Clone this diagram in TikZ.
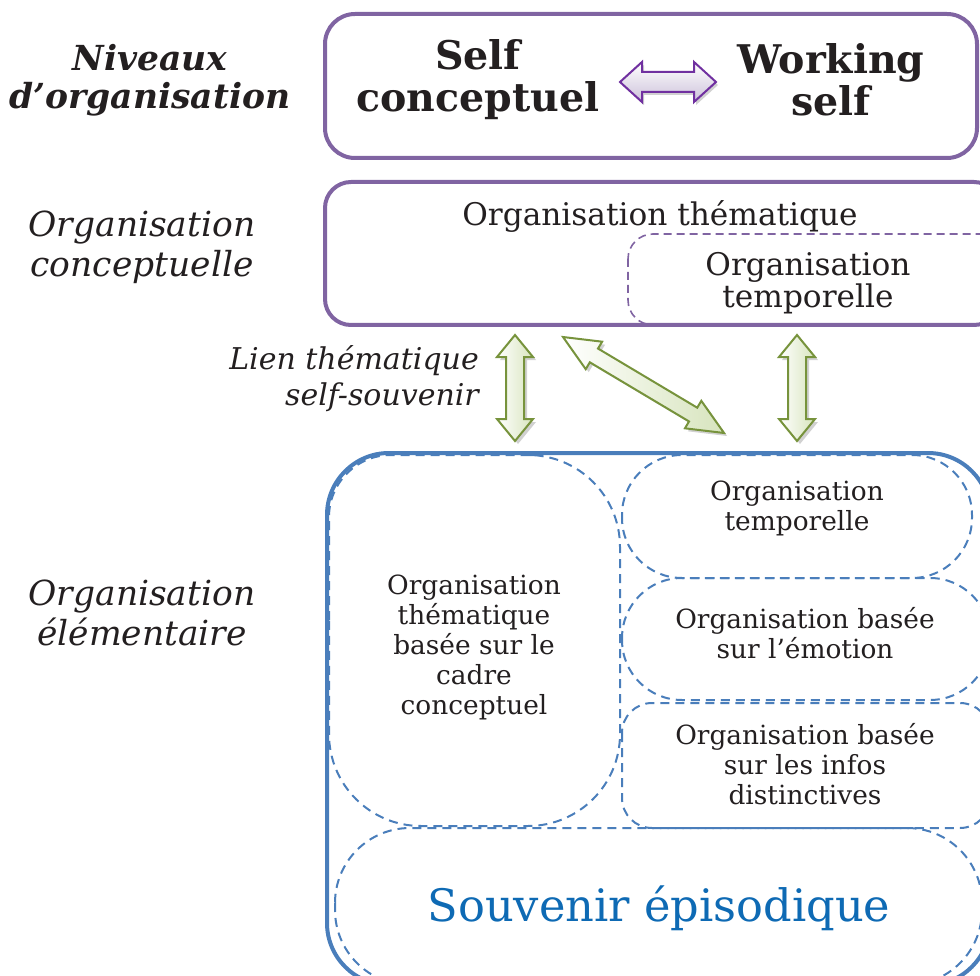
\documentclass[tikz,border=0pt]{standalone}
\usepackage{fontspec}
\setmainfont{DejaVu Serif}
\definecolor{boxpurple}{HTML}{8064A2}
\definecolor{arrpurple}{HTML}{7030A0}
\definecolor{arrpurplefill}{HTML}{CCC1DA}
\definecolor{arrgreen}{HTML}{77933C}
\definecolor{arrgreenfill}{HTML}{D7E4BD}
\definecolor{boxblue}{HTML}{4A7EBB}
\definecolor{txtgray}{HTML}{231F20}
\definecolor{souvblue}{HTML}{0E6AB4}
\newcommand\blockarrow[7]{\begin{scope}[shift={#2},rotate=#3]\path[#1] (0,0) -- (#5,#6) -- (#5,#7) -- ({#4-#5},#7) -- ({#4-#5},#6) -- (#4,0) -- ({#4-#5},-#6) -- ({#4-#5},-#7) -- (#5,-#7) -- (#5,-#6) -- cycle;\end{scope}}
\tikzset{
  purplebox/.style={draw=boxpurple, line width=4pt},
  dashpurple/.style={draw=boxpurple, line width=1.6pt, dash pattern=on 8pt off 5pt},
  bluebox/.style={draw=boxblue, line width=4pt},
  dashblue/.style={draw=boxblue, line width=2pt, dash pattern=on 9pt off 6pt},
  txt/.style={text=txtgray, align=center, inner sep=0pt, font=\fontsize{26.4}{30}\selectfont},
  midtxt/.style={text=txtgray, align=center, inner sep=0pt, font=\fontsize{31.2}{32}\selectfont},
  boldtxt/.style={text=txtgray, align=center, inner sep=0pt, font=\fontsize{39.5}{42}\selectfont\bfseries},
  sidetxt/.style={text=txtgray, align=center, inner sep=0pt, font=\fontsize{34.5}{40}\selectfont\itshape},
  arrowshadow/.style={fill=black!18},
  greenarrow/.style={draw=arrgreen, line width=2pt, line join=miter, left color=white, right color=arrgreenfill},
  purplearrow/.style={draw=arrpurple, line width=2pt, line join=miter, top color=white, bottom color=arrpurplefill},
}
\begin{document}
\begin{tikzpicture}[x=1pt,y=-1pt]
\useasboundingbox (0,0) rectangle (980,976);
\clip (0,0) rectangle (980,976);
% top box
\draw[purplebox, rounded corners=30pt] (325,14) rectangle (977,158);
\node[boldtxt] (selfc) at (478,80) {Self\\conceptuel};
\node[boldtxt] (works) at (831,80) {Working\\self};
\blockarrow{arrowshadow}{(622,85)}{0}{96}{22}{20}{10}
\blockarrow{purplearrow}{(620,82)}{0}{96}{22}{20}{10}
% conceptual box
\draw[purplebox, rounded corners=26pt] (325,182) rectangle (1000,325);
\draw[dashpurple, rounded corners=25pt] (628,234) rectangle (1010,325);
\node[midtxt] (othem) at (660,216) {Organisation thématique};
\node[midtxt] (otemp) at (808,283) {Organisation\\temporelle};
% side labels
\node[sidetxt, font=\fontsize{34.5}{38}\selectfont\bfseries\itshape] (niv) at (150,80) {Niveaux\\d’organisation};
\node[sidetxt] (oconc) at (142,247) {Organisation\\conceptuelle};
\node[sidetxt, font=\fontsize{30}{36}\selectfont\itshape, align=right, anchor=east] (lien) at (479,379) {Lien thématique\\self-souvenir};
\node[sidetxt] (oelem) at (142,613) {Organisation\\élémentaire};
% green arrows
\coordinate (a1) at (515,335);
\coordinate (a2) at (797,335);
\coordinate (a3) at (563,337);
\coordinate (s1) at (518,338);
\coordinate (s2) at (800,338);
\coordinate (s3) at (566,340);
\blockarrow{arrowshadow}{(s1)}{-90}{106}{22}{18}{9}
\blockarrow{arrowshadow}{(s2)}{-90}{106}{22}{18}{9}
\blockarrow{arrowshadow}{(s3)}{-30.8}{187.5}{36}{16}{8}
\blockarrow{greenarrow}{(a1)}{-90}{106}{22}{18}{9}
\blockarrow{greenarrow}{(a2)}{-90}{106}{22}{18}{9}
\blockarrow{greenarrow}{(a3)}{-30.8}{187.5}{36}{16}{8}
% elementary box
\draw[bluebox, rounded corners=62pt] (327,453) rectangle (990,985);
\draw[dashblue] (329,620) {[rounded corners=62pt] -- (329,455) -- (474,455)} {[rounded corners=92pt] -- (620,455) -- (620,826) -- (329,826) -- (329,620)};
\draw[dashblue, rounded corners=60pt] (622,455) rectangle (972,578);
\draw[dashblue, rounded corners=60pt] (622,578) rectangle (990,700);
\draw[dashblue, rounded corners=30pt] (622,703) rectangle (990,828);
\draw[dashblue, rounded corners=75pt] (335,828) rectangle (982,985);
\node[txt] (tcad) at (474,647) {Organisation\\thématique\\basée sur le\\cadre\\conceptuel};
\node[txt] (etemp) at (797,508) {Organisation\\temporelle};
\node[txt] (emo) at (805,633) {Organisation basée\\sur l’émotion};
\node[txt] (dist) at (805,764) {Organisation basée\\sur les infos\\distinctives};
\node[text=souvblue, inner sep=0pt, font=\fontsize{44.7}{50}\selectfont] (souv) at (659,908) {Souvenir épisodique};
\end{tikzpicture}
\end{document}
